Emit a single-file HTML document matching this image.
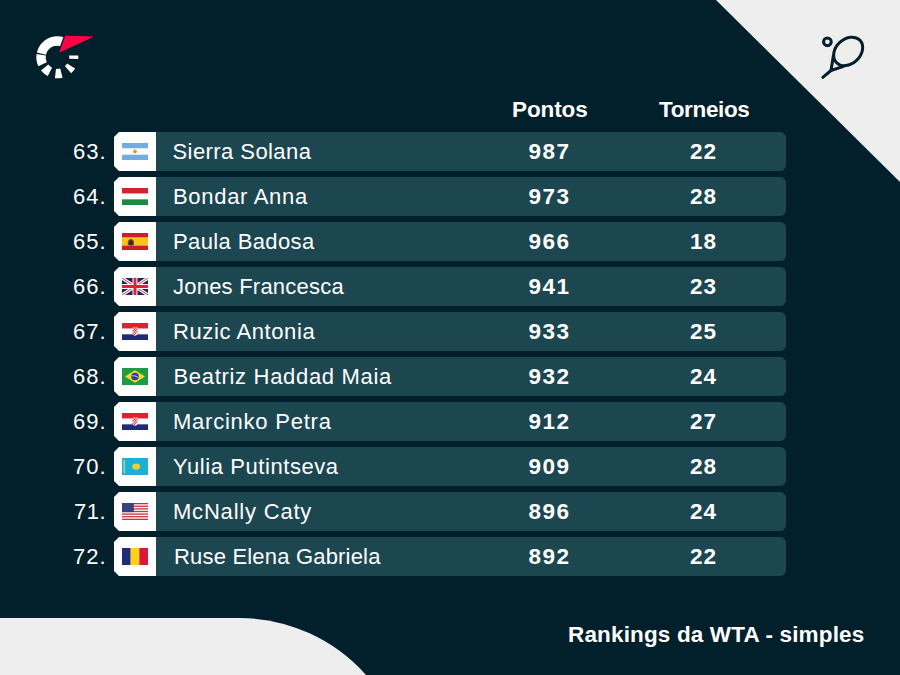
<!DOCTYPE html>
<html><head><meta charset="utf-8"><style>
html,body{margin:0;padding:0}
body{width:900px;height:675px;position:relative;overflow:hidden;background:#02202b;font-family:"Liberation Sans",sans-serif;color:#fff}
.tri{position:absolute;left:0;top:0}
.t{position:absolute;height:39px;line-height:39px;white-space:nowrap;font-size:22px}
.box{position:absolute;left:114px;width:42px;height:39px;background:#fff;clip-path:polygon(5px 0,100% 0,100% 100%,5px 100%,0 calc(100% - 5px),0 5px)}
.fl{position:absolute;left:8px;top:11px;display:block}
.bar{position:absolute;left:156px;width:630px;height:39px;background:#1c4751;border-radius:0 6px 6px 0}
.pt,.tn,.hd,.ft{font-weight:bold}
.hd{font-size:22.5px}.pt,.tn{font-size:22.5px}.ft{font-size:22.5px}
</style></head><body>
<svg class="tri" width="900" height="675" viewBox="0 0 900 675">
<path d="M716 0H900V182Z" fill="#eeeeee"/>
<path d="M0 618H240A170 170 0 0 1 366 675H0Z" fill="#eeeeee"/>
</svg>
<svg style="position:absolute;left:0;top:0" width="120" height="100" viewBox="0 0 120 100">
<path d="M36.56 54.01A21 21 0 0 0 38.27 66.17L46.79 62.20A11.6 11.6 0 0 1 45.84 55.49ZM40.98 70.52A21 21 0 0 0 47.77 76.01L52.03 67.64A11.6 11.6 0 0 1 48.29 64.60ZM54.92 78.17A21 21 0 0 0 62.56 77.63L60.20 68.53A11.6 11.6 0 0 1 55.99 68.83ZM71.08 73.15A21 21 0 0 0 75.11 68.43L67.14 63.45A11.6 11.6 0 0 1 64.91 66.05ZM64.48 37.57A21 21 0 0 0 36.84 52.58L46.00 54.69A11.6 11.6 0 0 1 61.27 46.40ZM69.2 55.6L78.3 55.4L78.3 59.1L69.2 58.8Z" fill="#fff"/>
<path d="M65.5 35.75L93.5 36.75L59.25 52.5Z" fill="#ff0046" stroke="#02202b" stroke-width="3" stroke-linejoin="round" paint-order="stroke"/>
<path d="M65.5 35.75L93.5 36.75L59.25 52.5Z" fill="#ff0046"/>
</svg>
<svg style="position:absolute;left:0;top:0" width="900" height="100" viewBox="0 0 900 100">
<g fill="none" stroke="#02202b" stroke-width="3" stroke-linecap="round" stroke-linejoin="round">
<circle cx="827.4" cy="41.8" r="3.85"/>
<ellipse cx="848.15" cy="51.4" rx="16.2" ry="12.3" transform="rotate(-43 848.15 51.4)"/>
<path d="M833.4 55.5L831 70.5L843.5 66.3"/>
<path d="M831 70.5L822.8 77.3"/>
</g>
</svg>
<div class="t hd" id="hd0" style="top:90px;left:512.0px;letter-spacing:-0.1px">Pontos</div>
<div class="t hd" id="hd1" style="top:90px;left:659.0px;letter-spacing:-0.357px">Torneios</div>
<div class="t rk" id="rk0" style="top:132px;left:73.0px;letter-spacing:1.0px">63.</div>
<div class="box" style="top:132px"><svg class="fl" width="26" height="17" viewBox="0 0 26 17"><rect width="26" height="17" fill="#74acdf"/><rect y="5.3" width="26" height="6.4" fill="#fff"/><circle cx="13" cy="8.5" r="1.9" fill="#d99a3c"/></svg></div>
<div class="bar" style="top:132px"></div>
<div class="t nm" id="nm0" style="top:132px;left:172.5px;letter-spacing:0.428px">Sierra Solana</div>
<div class="t pt" id="pt0" style="top:132px;left:528.5px;letter-spacing:1.5px">987</div>
<div class="t tn" id="tn0" style="top:132px;left:690.0px;letter-spacing:1.0px">22</div><div class="t rk" id="rk1" style="top:177px;left:73.0px;letter-spacing:1.0px">64.</div>
<div class="box" style="top:177px"><svg class="fl" width="26" height="17" viewBox="0 0 26 17"><rect width="26" height="5.67" fill="#d2232f"/><rect y="5.67" width="26" height="5.67" fill="#fff"/><rect y="11.33" width="26" height="5.67" fill="#1a8a45"/></svg></div>
<div class="bar" style="top:177px"></div>
<div class="t nm" id="nm1" style="top:177px;left:173.0px;letter-spacing:0.7px">Bondar Anna</div>
<div class="t pt" id="pt1" style="top:177px;left:528.5px;letter-spacing:1.5px">973</div>
<div class="t tn" id="tn1" style="top:177px;left:690.0px;letter-spacing:1.0px">28</div><div class="t rk" id="rk2" style="top:222px;left:73.0px;letter-spacing:1.0px">65.</div>
<div class="box" style="top:222px"><svg class="fl" width="26" height="17" viewBox="0 0 26 17"><rect width="26" height="17" fill="#c8202a"/><rect y="4.25" width="26" height="8.5" fill="#fbc31b"/><path d="M5.8 12.2V9.3Q6 6 8.9 5.9Q11.8 6 12 9.3V12.2Z" fill="#7a4a1c"/><path d="M7.3 12.2V9.2Q7.5 7.2 9 7.2Q10.2 7.3 10.4 9.2V12.2Z" fill="#3a220c"/></svg></div>
<div class="bar" style="top:222px"></div>
<div class="t nm" id="nm2" style="top:222px;left:173.0px;letter-spacing:0.385px">Paula Badosa</div>
<div class="t pt" id="pt2" style="top:222px;left:528.5px;letter-spacing:1.5px">966</div>
<div class="t tn" id="tn2" style="top:222px;left:690.0px;letter-spacing:1.0px">18</div><div class="t rk" id="rk3" style="top:267px;left:73.0px;letter-spacing:1.0px">66.</div>
<div class="box" style="top:267px"><svg class="fl" width="26" height="17" viewBox="0 0 26 17"><rect width="26" height="17" fill="#24235a"/><path d="M0 0L26 17M26 0L0 17" stroke="#fff" stroke-width="3.2"/><path d="M0 0L26 17M26 0L0 17" stroke="#d8203a" stroke-width="0.9"/><path d="M13 0V17M0 8.5H26" stroke="#fff" stroke-width="5"/><path d="M13 0V17M0 8.5H26" stroke="#e51c3a" stroke-width="3"/></svg></div>
<div class="bar" style="top:267px"></div>
<div class="t nm" id="nm3" style="top:267px;left:173.0px;letter-spacing:0.228px">Jones Francesca</div>
<div class="t pt" id="pt3" style="top:267px;left:528.5px;letter-spacing:1.5px">941</div>
<div class="t tn" id="tn3" style="top:267px;left:690.0px;letter-spacing:1.0px">23</div><div class="t rk" id="rk4" style="top:312px;left:73.0px;letter-spacing:1.0px">67.</div>
<div class="box" style="top:312px"><svg class="fl" width="26" height="17" viewBox="0 0 26 17"><rect width="26" height="5.67" fill="#e0202f"/><rect y="5.67" width="26" height="5.67" fill="#fff"/><rect y="11.33" width="26" height="5.67" fill="#1f2a7a"/><path d="M10.5 4.5H15.5V10Q15.5 12.4 13 12.8Q10.5 12.4 10.5 10Z" fill="#fff"/><g fill="#e0202f"><rect x="10.5" y="4.5" width="1.25" height="1.25"/><rect x="13" y="4.5" width="1.25" height="1.25"/><rect x="11.75" y="5.75" width="1.25" height="1.25"/><rect x="14.25" y="5.75" width="1.25" height="1.25"/><rect x="10.5" y="7" width="1.25" height="1.25"/><rect x="13" y="7" width="1.25" height="1.25"/><rect x="11.75" y="8.25" width="1.25" height="1.25"/><rect x="14.25" y="8.25" width="1.25" height="1.25"/><rect x="10.5" y="9.5" width="1.25" height="1.25"/><rect x="13" y="9.5" width="1.25" height="1.25"/><rect x="11.75" y="10.75" width="1.25" height="1.25"/></g></svg></div>
<div class="bar" style="top:312px"></div>
<div class="t nm" id="nm4" style="top:312px;left:173.0px;letter-spacing:0.594px">Ruzic Antonia</div>
<div class="t pt" id="pt4" style="top:312px;left:528.5px;letter-spacing:1.5px">933</div>
<div class="t tn" id="tn4" style="top:312px;left:690.0px;letter-spacing:1.0px">25</div><div class="t rk" id="rk5" style="top:357px;left:73.0px;letter-spacing:1.0px">68.</div>
<div class="box" style="top:357px"><svg class="fl" width="26" height="17" viewBox="0 0 26 17"><rect width="26" height="17" fill="#1f9a46"/><path d="M3 8.5L13 2.3L23 8.5L13 14.7Z" fill="#f2dc1f"/><circle cx="13" cy="8.5" r="3.8" fill="#2b3f9b"/><path d="M9.7 7.8Q13 7.2 16.2 9.3" stroke="#fff" stroke-width="0.7" fill="none"/></svg></div>
<div class="bar" style="top:357px"></div>
<div class="t nm" id="nm5" style="top:357px;left:173.5px;letter-spacing:0.689px">Beatriz Haddad Maia</div>
<div class="t pt" id="pt5" style="top:357px;left:528.5px;letter-spacing:1.5px">932</div>
<div class="t tn" id="tn5" style="top:357px;left:690.0px;letter-spacing:1.0px">24</div><div class="t rk" id="rk6" style="top:402px;left:73.0px;letter-spacing:1.0px">69.</div>
<div class="box" style="top:402px"><svg class="fl" width="26" height="17" viewBox="0 0 26 17"><rect width="26" height="5.67" fill="#e0202f"/><rect y="5.67" width="26" height="5.67" fill="#fff"/><rect y="11.33" width="26" height="5.67" fill="#1f2a7a"/><path d="M10.5 4.5H15.5V10Q15.5 12.4 13 12.8Q10.5 12.4 10.5 10Z" fill="#fff"/><g fill="#e0202f"><rect x="10.5" y="4.5" width="1.25" height="1.25"/><rect x="13" y="4.5" width="1.25" height="1.25"/><rect x="11.75" y="5.75" width="1.25" height="1.25"/><rect x="14.25" y="5.75" width="1.25" height="1.25"/><rect x="10.5" y="7" width="1.25" height="1.25"/><rect x="13" y="7" width="1.25" height="1.25"/><rect x="11.75" y="8.25" width="1.25" height="1.25"/><rect x="14.25" y="8.25" width="1.25" height="1.25"/><rect x="10.5" y="9.5" width="1.25" height="1.25"/><rect x="13" y="9.5" width="1.25" height="1.25"/><rect x="11.75" y="10.75" width="1.25" height="1.25"/></g></svg></div>
<div class="bar" style="top:402px"></div>
<div class="t nm" id="nm6" style="top:402px;left:173.0px;letter-spacing:0.764px">Marcinko Petra</div>
<div class="t pt" id="pt6" style="top:402px;left:528.5px;letter-spacing:1.5px">912</div>
<div class="t tn" id="tn6" style="top:402px;left:690.0px;letter-spacing:1.0px">27</div><div class="t rk" id="rk7" style="top:447px;left:73.0px;letter-spacing:1.0px">70.</div>
<div class="box" style="top:447px"><svg class="fl" width="26" height="17" viewBox="0 0 26 17"><rect width="26" height="17" fill="#1db0d6"/><ellipse cx="14.2" cy="8.6" rx="3.9" ry="3.1" fill="#e5d52a"/><rect x="1.3" y="1.8" width="1.9" height="13.4" fill="#8fd0a8"/></svg></div>
<div class="bar" style="top:447px"></div>
<div class="t nm" id="nm7" style="top:447px;left:173.0px;letter-spacing:0.567px">Yulia Putintseva</div>
<div class="t pt" id="pt7" style="top:447px;left:528.5px;letter-spacing:1.5px">909</div>
<div class="t tn" id="tn7" style="top:447px;left:690.0px;letter-spacing:1.0px">28</div><div class="t rk" id="rk8" style="top:492px;left:74.0px;letter-spacing:0.5px">71.</div>
<div class="box" style="top:492px"><svg class="fl" width="26" height="17" viewBox="0 0 26 17"><rect width="26" height="17" fill="#fff"/><rect y="0.000" width="26" height="1.308" fill="#c8323f"/><rect y="2.615" width="26" height="1.308" fill="#c8323f"/><rect y="5.231" width="26" height="1.308" fill="#c8323f"/><rect y="7.846" width="26" height="1.308" fill="#c8323f"/><rect y="10.462" width="26" height="1.308" fill="#c8323f"/><rect y="13.077" width="26" height="1.308" fill="#c8323f"/><rect y="15.692" width="26" height="1.308" fill="#c8323f"/><rect width="11.8" height="9.15" fill="#3a3f7d"/></svg></div>
<div class="bar" style="top:492px"></div>
<div class="t nm" id="nm8" style="top:492px;left:173.0px;letter-spacing:0.796px">McNally Caty</div>
<div class="t pt" id="pt8" style="top:492px;left:528.5px;letter-spacing:1.5px">896</div>
<div class="t tn" id="tn8" style="top:492px;left:690.0px;letter-spacing:1.0px">24</div><div class="t rk" id="rk9" style="top:537px;left:73.0px;letter-spacing:1.0px">72.</div>
<div class="box" style="top:537px"><svg class="fl" width="26" height="17" viewBox="0 0 26 17"><rect width="8.67" height="17" fill="#1f2a78"/><rect x="8.67" width="8.67" height="17" fill="#fcd116"/><rect x="17.33" width="8.67" height="17" fill="#d81a3a"/></svg></div>
<div class="bar" style="top:537px"></div>
<div class="t nm" id="nm9" style="top:537px;left:174.0px;letter-spacing:0.189px">Ruse Elena Gabriela</div>
<div class="t pt" id="pt9" style="top:537px;left:528.5px;letter-spacing:1.5px">892</div>
<div class="t tn" id="tn9" style="top:537px;left:690.0px;letter-spacing:1.0px">22</div>
<div class="t ft" id="ft" style="top:615px;left:568.0px;letter-spacing:0.153px">Rankings da WTA - simples</div>
</body></html>
